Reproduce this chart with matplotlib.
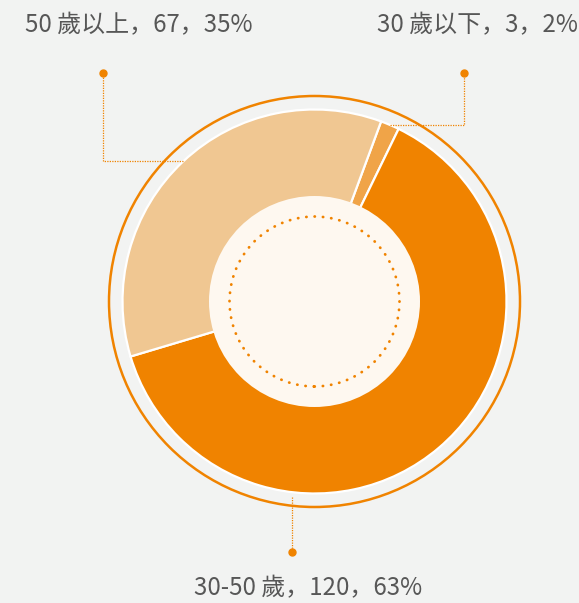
import numpy as np
import matplotlib
matplotlib.use("Agg")
from matplotlib import pyplot as plt
from matplotlib.patches import Circle

plt.rcParams['font.family'] = ['Noto Sans CJK SC', 'DejaVu Sans']

categories = ['30 歲以下', '30-50 歲', '50 歲以上']
values = [3, 120, 67]
colors = ['#F0A448', '#F08300', '#F0C792']

W, H = 579, 603
cx, cy = 314.5, H - 301.5
r_pie = 192
start = 69.7

fig = plt.figure(figsize=(W / 100, H / 100), dpi=100)
fig.patch.set_facecolor('#F2F3F2')
ax = fig.add_axes([0, 0, 1, 1])

wedges, _ = ax.pie(values, colors=colors, startangle=start, counterclock=False,
                   radius=r_pie, center=(cx, cy),
                   wedgeprops=dict(edgecolor='white', linewidth=1.6))

# outer ring, inner disc and dotted circle
ax.add_patch(Circle((cx, cy), 205.5, fill=False, edgecolor='#F08300', linewidth=1.8))
ax.add_patch(Circle((cx, cy), 105.5, facecolor='#FEF8F0', edgecolor='none', zorder=3))
ax.add_patch(Circle((cx, cy), 85, fill=False, edgecolor='#F08300', linewidth=2.0,
                    linestyle=(0, (0.1, 2.9)), capstyle='round', zorder=4))

total = sum(values)
labels = [f"{c}，{v}，{round(v / total * 100)}%" for c, v in zip(categories, values)]

lc = '#F08300'
txt_kw = dict(fontsize=17.3, color='#575757', va='center')


def edge_point(theta_deg):
    t = np.deg2rad(theta_deg)
    return cx + r_pie * np.cos(t), cy + r_pie * np.sin(t)


# 30 歲以下 : from wedge middle, right then up
w = wedges[0]
x0, y0 = edge_point((w.theta1 + w.theta2) / 2)
ax.plot([x0, 464, 464], [y0, y0, H - 73], color=lc, lw=0.9, ls=(0, (1, 1)))
ax.plot(464, H - 73, 'o', color=lc, ms=5)
ax.text(578, H - 25, labels[0], ha='right', **txt_kw)

# 50 歲以上 : from wedge middle, left then up
w = wedges[2]
x0, y0 = edge_point((w.theta1 + w.theta2) / 2)
ax.plot([x0, 103, 103], [y0, y0, H - 73], color=lc, lw=0.9, ls=(0, (1, 1)))
ax.plot(103, H - 73, 'o', color=lc, ms=5)
ax.text(25, H - 25, labels[2], ha='left', **txt_kw)

# 30-50 歲 : straight down
ax.plot([292, 292], [H - 497, H - 552], color=lc, lw=0.9, ls=(0, (1, 1)))
ax.plot(292, H - 552, 'o', color=lc, ms=5)
ax.text(308.5, H - 588, labels[1], ha='center', **txt_kw)

ax.set_xlim(0, W)
ax.set_ylim(0, H)
ax.set_aspect('auto')
ax.axis('off')

fig.savefig('out.png', dpi=100, facecolor=fig.get_facecolor())
